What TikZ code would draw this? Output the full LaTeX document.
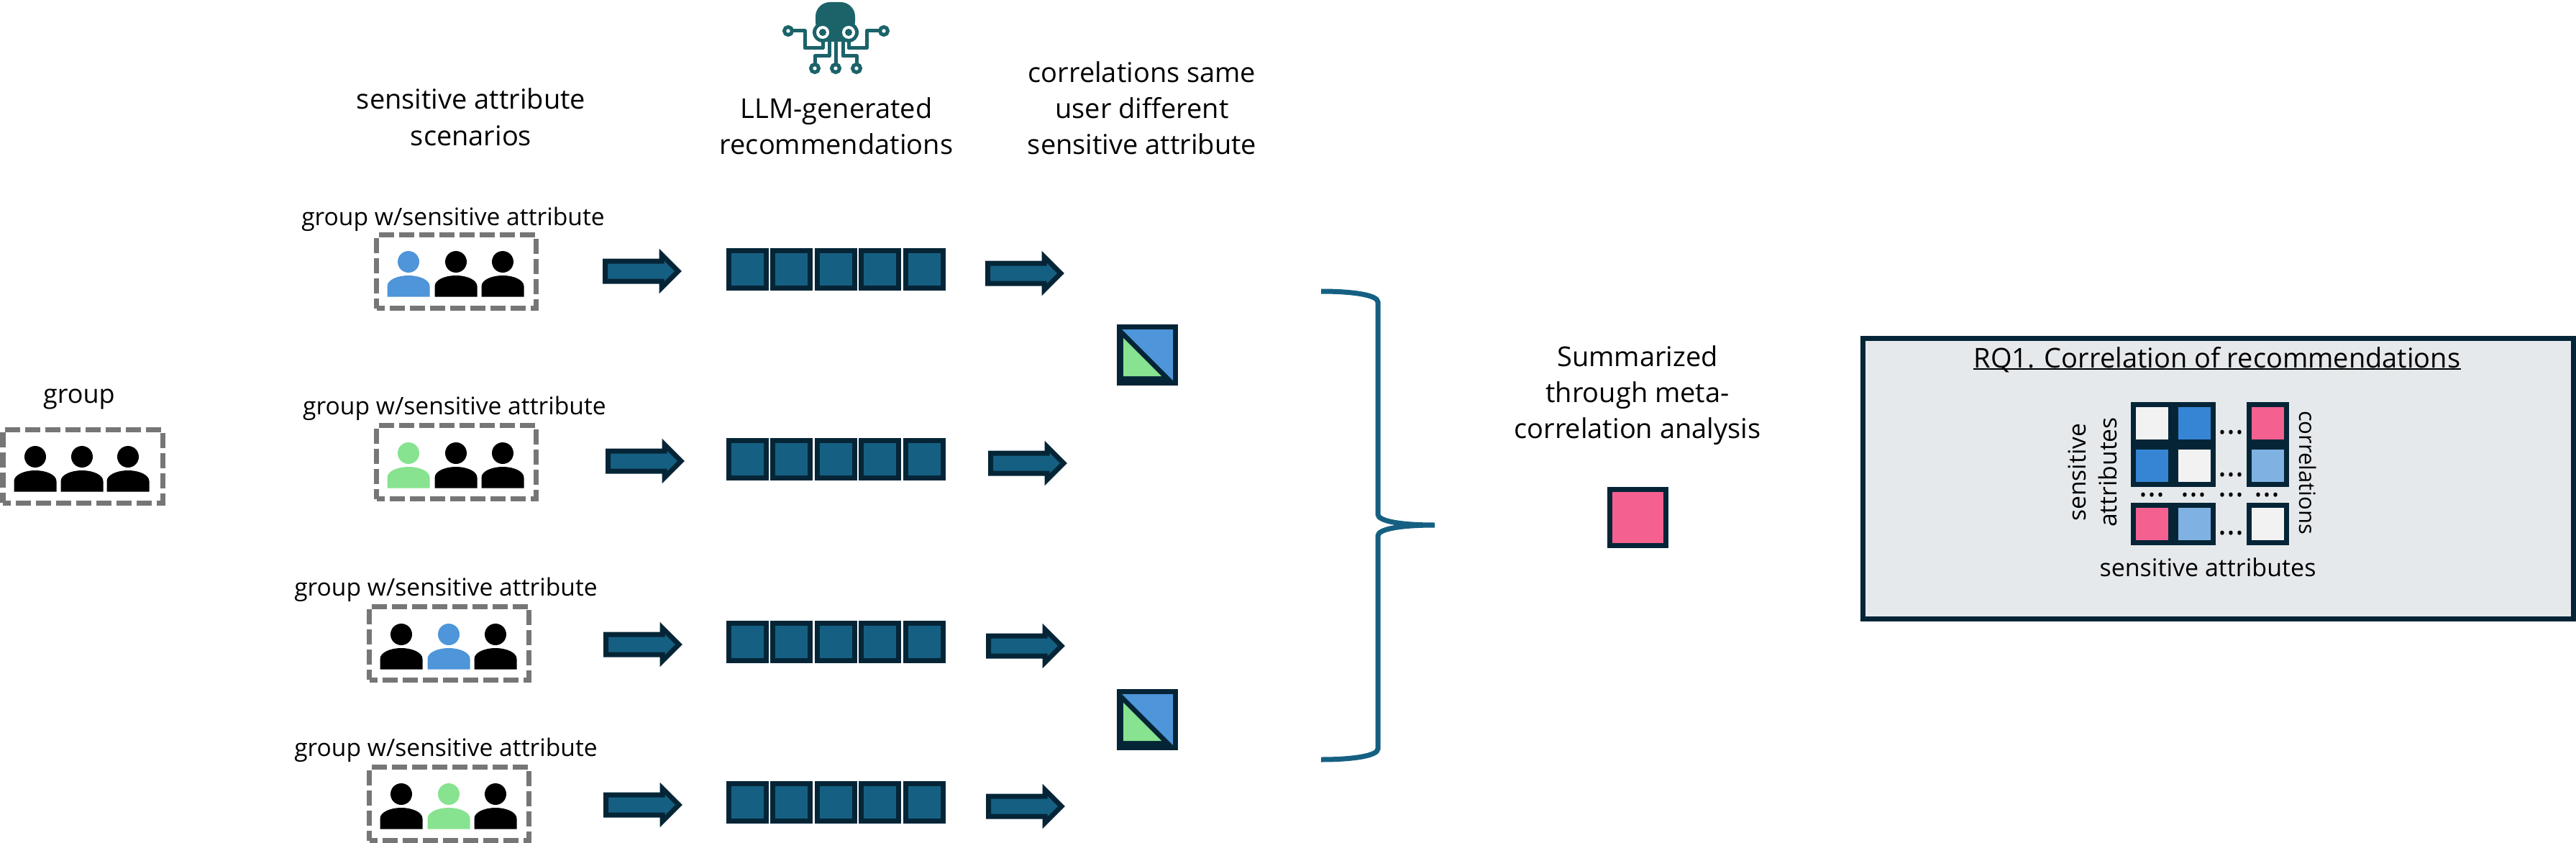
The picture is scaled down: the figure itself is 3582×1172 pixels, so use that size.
\documentclass[tikz,border=0pt]{standalone}
\usepackage{fontspec}
\setmainfont{Open Sans}
\usetikzlibrary{shapes.arrows}
\definecolor{navy}{HTML}{052537}
\definecolor{teal}{HTML}{156082}
\definecolor{octo}{HTML}{1B6369}
\definecolor{sblue}{HTML}{4E95D9}
\definecolor{sgreen}{HTML}{87E38F}
\definecolor{spink}{HTML}{F4608F}
\definecolor{dgray}{HTML}{767676}
\definecolor{panel}{HTML}{E6E9EC}
\definecolor{cellw}{HTML}{F2F2F2}
\definecolor{cellb}{HTML}{3585D4}
\definecolor{celll}{HTML}{7FB1E2}
\tikzset{
  dbox/.style={draw=dgray,line width=3.5pt,dash pattern=on 10.5pt off 3.5pt,dash phase=5pt,
    minimum width=111pt,minimum height=51pt,inner sep=0pt,outer sep=0pt},
  recbox/.style={draw=navy,fill=teal,line width=3.5pt,minimum width=26pt,minimum height=26pt,inner sep=0pt,outer sep=0pt},
  blockarrow/.style={single arrow,draw=navy,fill=teal,line width=3.5pt,anchor=tail,
    inner xsep=0pt,inner ysep=5.25pt,outer sep=0pt,single arrow head extend=4.5pt,
    single arrow tip angle=90,minimum height=50.75pt,miter limit=10},
  hdr/.style={font=\fontsize{19pt}{25pt}\selectfont,align=center,inner sep=0pt,anchor=base},
  sub/.style={font=\fontsize{16.8pt}{20pt}\selectfont,inner sep=0pt,anchor=base},
  mat/.style={font=\fontsize{17pt}{21.5pt}\selectfont,align=center,inner sep=0pt,anchor=base},
  cell/.style={minimum width=22.5pt,minimum height=22.5pt,inner sep=0pt,outer sep=0pt},
  block/.style={fill=navy,inner sep=0pt,outer sep=0pt},
  mdots/.style={font=\fontsize{22.5pt}{22.5pt}\selectfont,inner sep=0pt,anchor=base},
  trisq/.style={fill=navy,minimum width=42.5pt,minimum height=42.5pt,inner sep=0pt,outer sep=0pt},
  octoline/.style={draw=octo,line width=2.5pt,line join=round},
  octoring/.style={draw=octo,fill=white,line width=2.5pt}
}
\newcommand{\person}[3]{%
  \fill[#3] (#1,#2) circle (15);
  \fill[#3] (#1-29.5,#2+48.5) -- (#1-29.5,#2+34)
    .. controls (#1-29.5,#2+25) and (#1-15,#2+19) .. (#1,#2+19)
    .. controls (#1+15,#2+19) and (#1+29.5,#2+25) .. (#1+29.5,#2+34)
    -- (#1+29.5,#2+48.5) -- cycle;
}
\newcommand{\trifill}[2]{%
  \fill[sblue] (#1+7,#2+7) -- (#1+78,#2+7) -- (#1+78,#2+78) -- cycle;
  \fill[sgreen] (#1+9,#2+19) -- (#1+62,#2+72) -- (#1+9,#2+72) -- cycle;
}
\begin{document}
\begin{tikzpicture}[x=0.5pt,y=-0.5pt]
\useasboundingbox (0,0) rectangle (3582,1172);

% group
\node[hdr,font=\fontsize{18pt}{25pt}\selectfont] (grouplabel) at (110,560) {group};
\node[dbox] (group) at (115,648) {};
\person{49}{635}{black}\person{114}{635}{black}\person{178}{635}{black}

% column headers (anchored at the last line's baseline)
\node[hdr] (scenhead) at (655,202) {sensitive attribute\\scenarios};
\node[hdr] (llmhead) at (1163,214) {LLM-generated\\recommendations};
\node[hdr] (corrhead) at (1588,214) {correlations same\\user different\\sensitive attribute};

% scenario rows
\node[sub] (l1) at (630,313) {group w/sensitive attribute};
\node[dbox] (b1) at (634.5,377.5) {};
\person{568}{364}{sblue}\person{634}{364}{black}\person{699}{364}{black}

\node[sub] (l2) at (632,576) {group w/sensitive attribute};
\node[dbox] (b2) at (634.5,642.5) {};
\person{568}{630}{sgreen}\person{634}{630}{black}\person{699}{630}{black}

\node[sub] (l3) at (620,828) {group w/sensitive attribute};
\node[dbox] (b3) at (624.5,894) {};
\person{558}{882}{black}\person{624}{882}{sblue}\person{689}{882}{black}

\node[sub] (l4) at (620,1051) {group w/sensitive attribute};
\node[dbox] (b4) at (624.5,1117.5) {};
\person{558}{1104}{black}\person{624}{1104}{sgreen}\person{689}{1104}{black}

% first arrows
\node[blockarrow] (a1) at (841.5,377) {};
\node[blockarrow] (a2) at (845.5,641) {};
\node[blockarrow] (a3) at (842.5,896) {};
\node[blockarrow] (a4) at (842.5,1119) {};

% recommendations
\foreach \r/\y in {1/374.5,2/638.5,3/892.5,4/1115.5}{
  \node[recbox] (r\r a) at (1039.5,\y) {};
  \node[recbox] (r\r b) at (1100.5,\y) {};
  \node[recbox] (r\r c) at (1162.5,\y) {};
  \node[recbox] (r\r d) at (1223.5,\y) {};
  \node[recbox] (r\r e) at (1285.5,\y) {};
}

% second arrows
\node[blockarrow] (c1) at (1373.5,380) {};
\node[blockarrow] (c2) at (1377.5,644) {};
\node[blockarrow] (c3) at (1374.5,898) {};
\node[blockarrow] (c4) at (1374.5,1121) {};

% correlation squares
\node[trisq] (t1) at (1595.5,493.5) {};
\trifill{1553}{451}
\node[trisq] (t2) at (1595.5,1000.5) {};
\trifill{1553}{958}

% brace
\draw[teal,line width=3.5pt] (1837,405) .. controls (1880,405) and (1916,410) .. (1916,420)
  -- (1916,715) .. controls (1916,725) and (1950,730) .. (1995,730)
  .. controls (1950,730) and (1916,735) .. (1916,745)
  -- (1916,1041) .. controls (1916,1051) and (1880,1056) .. (1837,1056);

% summary
\node[hdr] (summary) at (2277,609) {Summarized\\through meta-\\correlation analysis};
\node[draw=navy,fill=spink,line width=3.5pt,minimum width=39pt,minimum height=39pt,inner sep=0pt,outer sep=0pt] (meta) at (2277.5,719.5) {};

% panel
\node[draw=navy,fill=panel,line width=3.5pt,minimum width=494pt,minimum height=195pt,inner sep=0pt,outer sep=0pt] (panel) at (3084.5,665.5) {};
\node[hdr] (rq) at (3083,511) {RQ1. Correlation of recommendations};
\draw[black,line width=1pt] ([yshift=-1pt]rq.base west) -- ([yshift=-1pt]rq.base east);

% matrix
\path[block] (2963,559) rectangle (3081,677);
\path[block] (3124,559) rectangle (3183,677);
\path[block] (2963,699) rectangle (3081,758);
\path[block] (3124,699) rectangle (3183,758);
\node[cell,fill=cellw] (m11) at (2992.5,588.5) {};
\node[cell,fill=cellb] (m12) at (3051.5,588.5) {};
\node[cell,fill=spink] (m13) at (3153.5,588.5) {};
\node[cell,fill=cellb] (m21) at (2992.5,647.5) {};
\node[cell,fill=cellw] (m22) at (3051.5,647.5) {};
\node[cell,fill=celll] (m23) at (3153.5,647.5) {};
\node[cell,fill=spink] (m31) at (2992.5,728.5) {};
\node[cell,fill=celll] (m32) at (3051.5,728.5) {};
\node[cell,fill=cellw] (m33) at (3153.5,728.5) {};
\node[mdots] (d1) at (3102.5,603) {...};
\node[mdots] (d2) at (3102.5,662) {...};
\node[mdots] (d3) at (3102.5,743) {...};
\node[mdots] (d4) at (2992,690) {...};
\node[mdots] (d5) at (3050.5,690) {...};
\node[mdots] (d6) at (3102.5,690) {...};
\node[mdots] (d7) at (3152,690) {...};
\node[mat] (xlabel) at (3070,801) {sensitive attributes};
\node[mat,rotate=90,font=\fontsize{16.8pt}{21.5pt}\selectfont] (ylabel) at (2943,656.5) {sensitive\\attributes};
\node[mat,rotate=-90,font=\fontsize{15.5pt}{20pt}\selectfont] (zlabel) at (3197,657) {correlations};

% octopus icon
\fill[octo,rounded corners=10] (1134,3) rectangle (1189,50);
\fill[octo] (1140,40) rectangle (1184,58);
\fill[octo] (1144,45) circle (14);
\fill[octo] (1180,45) circle (14);
\fill[white] (1144,45) circle (9);
\fill[white] (1180,45) circle (9);
\fill[octo] (1144,45) circle (5);
\fill[octo] (1180,45) circle (5);
\draw[octoline] (1101,43) -- (1119,43) -- (1119,67) -- (1144,67) -- (1144,56);
\draw[octoline] (1224,43) -- (1205,43) -- (1205,67) -- (1180,67) -- (1180,56);
\draw[octoline] (1162,56) -- (1162,90);
\draw[octoline] (1133,90) -- (1133,78) -- (1153,78) -- (1153,56);
\draw[octoline] (1191,90) -- (1191,78) -- (1172,78) -- (1172,56);
\draw[octoring] (1096,43) circle (5.5);
\draw[octoring] (1229,43) circle (5.5);
\draw[octoring] (1133,95) circle (5.5);
\draw[octoring] (1162,95) circle (5.5);
\draw[octoring] (1191,95) circle (5.5);
\end{tikzpicture}
\end{document}
